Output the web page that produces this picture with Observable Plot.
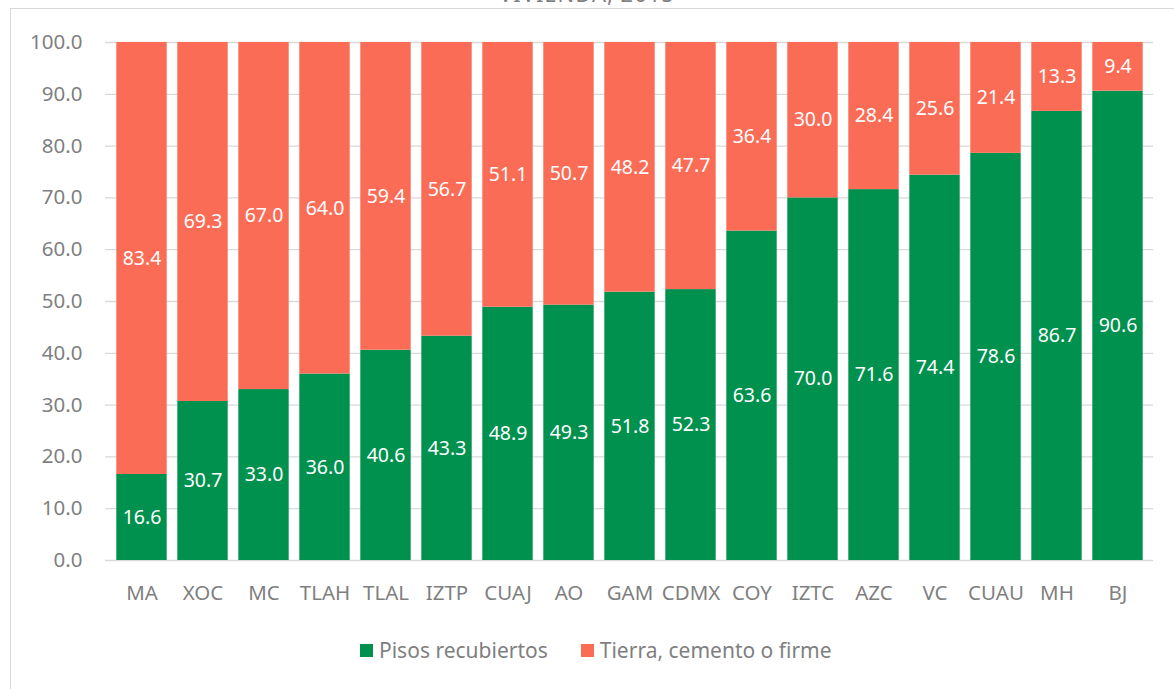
<!DOCTYPE html>
<html>
<head>
<meta charset="utf-8">
<script src="https://cdn.jsdelivr.net/npm/d3@7"></script>
<script src="https://cdn.jsdelivr.net/npm/@observablehq/plot@0.6"></script>
<style>
  html, body { margin: 0; padding: 0; background: #fff; overflow: hidden; }
  body { width: 1174px; height: 689px; position: relative; font-family: "Noto Sans", sans-serif; }
  #frame { position: absolute; left: 10px; top: 8px; width: 1200px; height: 720px; border: 1px solid #d9d9d9; box-sizing: border-box; }
  #title { position: absolute; left: 0; width: 1174px; top: -22px; text-align: center; font-size: 22px; color: #7f7f7f; letter-spacing: 1px; }
  #chart { position: absolute; left: 0; top: 0; }
  #legend { position: absolute; top: 636px; left: 360px; display: flex; justify-content: flex-start; gap: 33px; font-size: 21px; color: #7f7f7f; }
  #legend span.item { display: flex; align-items: center; }
  #legend i { display: inline-block; width: 13px; height: 13px; margin-right: 6px; }
</style>
</head>
<body>
<div id="frame"></div>
<div id="title">VIVIENDA, 2015</div>
<div id="chart"></div>
<div id="legend"></div>
<script>
const categories = ["MA","XOC","MC","TLAH","TLAL","IZTP","CUAJ","AO","GAM","CDMX","COY","IZTC","AZC","VC","CUAU","MH","BJ"];
const pisosRecubiertos = [16.6,30.7,33.0,36.0,40.6,43.3,48.9,49.3,51.8,52.3,63.6,70.0,71.6,74.4,78.6,86.7,90.6];
const tierraCemento = [83.4,69.3,67.0,64.0,59.4,56.7,51.1,50.7,48.2,47.7,36.4,30.0,28.4,25.6,21.4,13.3,9.4];
const seriesNames = ["Pisos recubiertos","Tierra, cemento o firme"];
const seriesColors = ["#00914f","#fb6c56"];
const yTicks = [0,10,20,30,40,50,60,70,80,90,100];

const data = [];
categories.forEach((c, i) => {
  data.push({cat: c, series: seriesNames[0], value: pisosRecubiertos[i]});
  data.push({cat: c, series: seriesNames[1], value: tierraCemento[i]});
});

const chart = Plot.plot({
  width: 1174,
  height: 620,
  marginLeft: 105,
  marginRight: 21,
  marginTop: 42,
  marginBottom: 60,
  style: {fontFamily: "Noto Sans, sans-serif", background: "transparent"},
  x: {domain: categories, padding: 0, label: null},
  y: {domain: [0, 100], ticks: yTicks, label: null},
  color: {domain: seriesNames, range: seriesColors},
  marks: [
    Plot.ruleY(yTicks, {stroke: "#d9d9d9", strokeWidth: 1.3}),
    Plot.barY(data, {x: "cat", y: "value", fill: "series", insetLeft: 5.3, insetRight: 5.3}),
    Plot.text(data, Plot.stackY({x: "cat", y: "value", z: "series", text: d => d.value.toFixed(1), fill: "white", fontSize: 19.5})),
    Plot.axisX({tickSize: 0, tickPadding: 25, fontSize: 20.5, color: "#7f7f7f", label: null}),
    Plot.axisY({ticks: yTicks, tickSize: 0, tickPadding: 23, fontSize: 20.5, color: "#7f7f7f", label: null, tickFormat: d => d.toFixed(1)})
  ]
});
document.getElementById("chart").appendChild(chart);

const legend = document.getElementById("legend");
seriesNames.forEach((s, i) => {
  const item = document.createElement("span");
  item.className = "item";
  const sw = document.createElement("i");
  sw.style.background = seriesColors[i];
  item.appendChild(sw);
  item.appendChild(document.createTextNode(s));
  legend.appendChild(item);
});
</script>
</body>
</html>
